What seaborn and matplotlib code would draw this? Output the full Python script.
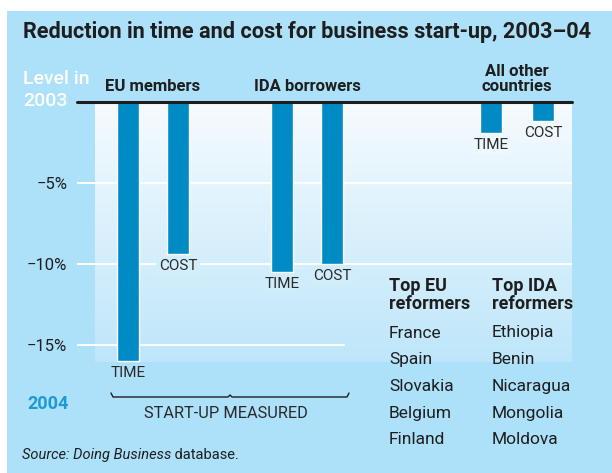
import numpy as np
import matplotlib
matplotlib.use("Agg")
import matplotlib.pyplot as plt
import matplotlib.transforms as mtransforms
from matplotlib.patches import Rectangle
from matplotlib.lines import Line2D
import matplotlib.colors as mcolors
import seaborn as sns

# data
groups = ["EU members", "IDA borrowers", "All other\ncountries"]
measures = ["TIME", "COST", "TIME", "COST", "TIME", "COST"]
bar_group = [0, 0, 1, 1, 2, 2]
change_pct = [-16.0, -9.4, -10.5, -10.0, -1.9, -1.2]
ytick_vals = [-5, -10, -15]
ytick_labels = ["\u22125%", "\u221210%", "\u221215%"]
eu_reformers = ["France", "Spain", "Slovakia", "Belgium", "Finland"]
ida_reformers = ["Ethiopia", "Benin", "Nicaragua", "Mongolia", "Moldova"]

title = "Reduction in time and cost for business start-up, 2003\u201304"

# layout (not data): bar slots along the x axis
bar_slots = [0, 1, 3.08, 4.08, 7.26, 8.30]

# colours
bg_blue = "#ACE1F9"
bar_blue = "#008BC4"
dark = "#1E1E1E"
year_blue = "#1C9AD6"
grad_top = np.array([246, 251, 254]) / 255
grad_bot = np.array([190, 230, 250]) / 255

sns.set_theme(style="white")
plt.rcParams["font.family"] = ["Roboto", "DejaVu Sans"]

W, H = 612, 473
fig = plt.figure(figsize=(W / 100, H / 100), dpi=100)
fig.patch.set_facecolor("white")


def fx(px):
    return px / W


def fy(py):
    return 1 - py / H


# light blue panel
fig.patches.append(Rectangle((fx(7), 0), 1 - fx(7), fy(11), transform=fig.transFigure,
                             facecolor=bg_blue, edgecolor="none", zorder=-10))

fig.text(fx(23), fy(32), title, fontsize=15.6, weight="bold", color=dark, va="center")

# axes: zero line at y=102px, 16.2px per percentage point
ax = fig.add_axes([fx(77), fy(380), fx(572 - 77), (380 - 102) / H])
ax.patch.set_visible(False)
ymin = -(380 - 102) / 16.2
ax.set_ylim(ymin, 0)
xlim = (-1.02, 8.88)

# gradient panel behind the bars
grad_bottom = -(362 - 102) / 16.2
n = 200
grad = np.linspace(grad_top, grad_bot, n)[:, None, :]
ax.imshow(grad, extent=[-0.66, xlim[1], grad_bottom, 0], aspect="auto", zorder=0,
          interpolation="bilinear")


def grad_color(y):
    if y < grad_bottom:
        return mcolors.to_rgb(bg_blue)
    f = min(max(y / grad_bottom, 0), 1)
    return tuple(grad_top + (grad_bot - grad_top) * f)


# gridlines
ax.axhline(-5, color="white", lw=1.4, zorder=1)
ax.axhline(-10, color="white", lw=1.4, zorder=1)
ax.axhline(-15, color="white", lw=1.4, xmax=(344 - 77) / (572 - 77), zorder=1)

sns.barplot(x=bar_slots, y=change_pct, native_scale=True, width=0.44, color=bar_blue,
            saturation=1, orient="x", errorbar=None, ax=ax, zorder=2)

ax.set_xlim(*xlim)
ax.set_ylim(ymin, 0)
ax.axhline(0, color=dark, lw=2.2, zorder=5, clip_on=False)
ax.set_xticks([])
ax.set_yticks(ytick_vals, ytick_labels)
ax.tick_params(axis="y", length=0, pad=7, labelsize=12, labelcolor=dark)
ax.set_xlabel("")
ax.set_ylabel("")
for s in ax.spines.values():
    s.set_visible(False)

# bar labels
for xs, val, m in zip(bar_slots, change_pct, measures):
    yl = val - 12 / 16.2
    ax.annotate(m, (xs, val), xytext=(0, -12), textcoords="offset pixels",
                ha="center", va="center", fontsize=11, color="#2a2a2a", zorder=3,
                bbox=dict(boxstyle="square,pad=0.15", fc=grad_color(yl), ec="none"))

# group headers
for gi, name in enumerate(groups):
    xs = [bar_slots[i] for i in range(len(bar_slots)) if bar_group[i] == gi]
    ax.annotate(name, (np.mean(xs), 0), xytext=(0, 8), textcoords="offset pixels",
                ha="center", va="bottom", fontsize=12, weight="bold", color=dark,
                linespacing=1.0, annotation_clip=False)

# level labels
fig.text(fx(23), fy(79), "Level in", fontsize=14, weight="medium", color="white", va="center")
fig.text(fx(23), fy(101.5), "2003", fontsize=14, weight="medium", color="white", va="center")
fig.text(fx(27), fy(404), "2004", fontsize=13, weight="bold", color=year_blue, va="center")

# brace under EU and IDA groups
bt = mtransforms.blended_transform_factory(ax.transData, fig.transFigure)
bl, br = bar_slots[0] - 0.34, bar_slots[3] + 0.34
bm = (bl + br) / 2
brace_x = [bl, bl + 0.04, bm - 0.04, bm, bm + 0.04, br - 0.04, br]
brace_y = [fy(393), fy(397), fy(397), fy(395), fy(397), fy(397), fy(393)]
fig.lines.append(Line2D(brace_x, brace_y, transform=bt, color=dark, lw=1.0))
fig.text(fx(226), fy(413), "START-UP MEASURED", fontsize=11.8, color="#2a2a2a",
         ha="center", va="center")

# reformers lists
for xcol, head, names in [(389, "Top EU\nreformers", eu_reformers),
                          (492, "Top IDA\nreformers", ida_reformers)]:
    fig.text(fx(xcol), fy(295), head, fontsize=13, weight="bold", color=dark,
             va="center", linespacing=0.95)
    for k, nm in enumerate(names):
        fig.text(fx(xcol), fy(333 + 26.7 * k), nm, fontsize=12.5, color=dark, va="center")

# source
src = fig.text(fx(22), fy(455), "Source: Doing Business", fontsize=10.5, style="italic",
               color=dark, va="center")
ann = ax.annotate(" database.", xy=(1, 0), xycoords=src, va="bottom", ha="left",
                  fontsize=10.5, color=dark, annotation_clip=False)

fig.savefig("out.png", dpi=100, facecolor=fig.get_facecolor())
